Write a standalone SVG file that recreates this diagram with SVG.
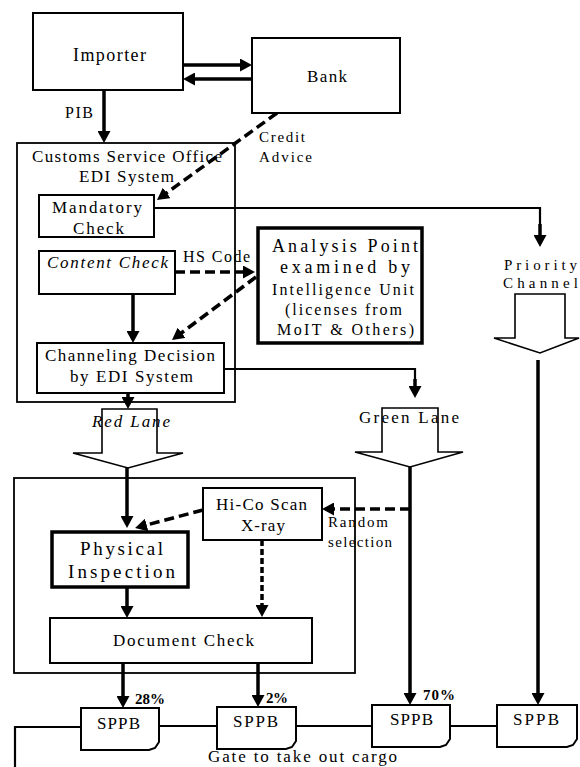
<svg xmlns="http://www.w3.org/2000/svg" width="580" height="767" viewBox="0 0 580 767">
<defs>
<marker id="ah" viewBox="0 0 12 13" refX="8" refY="6.5" markerWidth="12" markerHeight="13" markerUnits="userSpaceOnUse" orient="auto">
<path d="M0,0 L12,6.5 L0,13 z" fill="#000"/>
</marker>
<style>
text{font-family:"Liberation Serif","DejaVu Serif",serif;fill:#000;}
.box{fill:#fff;stroke:#000;stroke-width:2;}
.thick{fill:#fff;stroke:#000;stroke-width:3.5;}
.frame{fill:none;stroke:#000;stroke-width:1.8;}
.blk{fill:#fff;stroke:#000;stroke-width:1.6;stroke-linejoin:miter;}
.c{fill:none;stroke:#000;stroke-width:3.5;}
.cm{fill:none;stroke:#000;stroke-width:2.2;}
.d{fill:none;stroke:#000;stroke-width:3.5;stroke-dasharray:10,5;}
.ds{fill:none;stroke:#000;stroke-width:3.5;stroke-dasharray:6,3;}
.arr{marker-end:url(#ah);}
</style>
</defs>
<rect width="580" height="767" fill="#fff"/>

<g id="frames">
<rect id="customs-frame" class="frame" x="17" y="143" width="218" height="259"/>
<rect id="inspection-frame" class="frame" x="14" y="478" width="341" height="195"/>
</g>

<g id="connectors">
<path class="c arr" d="M183,65 H248"/>
<path class="c arr" d="M252,79 H187"/>
<path class="c arr" d="M104,90 V139"/>
<path class="d arr" d="M277,113 L160.2,197.6"/>
<path class="cm" d="M154,208 H540 V225"/>
<path class="c arr" d="M540,224 V243"/>
<path class="d arr" d="M175,272 H251"/>
<path class="d arr" d="M256,277 L175.2,337.6"/>
<path class="c arr" d="M133,294 V339"/>
<path class="cm" d="M224,369 H415 V380"/>
<path class="c arr" d="M415,379 V394"/>
<path class="c arr" d="M128,393 V405"/>
<path class="c arr" d="M127,468 V524"/>
<path class="d arr" d="M203,510 L138.9,527"/>
<path class="d arr" d="M410,509 H326"/>
<path class="ds arr" d="M262,540 V613"/>
<path class="c arr" d="M127,587 V614"/>
<path class="c arr" d="M123,663 V704"/>
<path class="c arr" d="M258,663 V703"/>
<path class="c arr" d="M410,467 V701"/>
<path class="c arr" d="M538,360 V701"/>
<path class="cm" d="M15,767 V727 H81"/>
<path class="cm" d="M159,726 H217"/>
<path class="cm" d="M296,726 H372"/>
<path class="cm" d="M450,726 H497"/>
</g>

<g id="importer">
<rect class="box" x="33" y="13" width="150" height="77"/>
<text x="73" y="61" font-size="18" textLength="73" lengthAdjust="spacing">Importer</text>
</g>
<g id="bank">
<rect class="box" x="252" y="38" width="148" height="75"/>
<text x="307" y="82" font-size="17" textLength="40" lengthAdjust="spacing">Bank</text>
</g>
<g id="labels-top">
<text x="65" y="118" font-size="16" textLength="28" lengthAdjust="spacing">PIB</text>
<text x="259" y="142" font-size="15" textLength="46" lengthAdjust="spacing">Credit</text>
<text x="259" y="162" font-size="15" textLength="53" lengthAdjust="spacing">Advice</text>
<text x="32" y="162" font-size="17" textLength="190" lengthAdjust="spacing">Customs Service Office</text>
<text x="79" y="182" font-size="17" textLength="95" lengthAdjust="spacing">EDI System</text>
</g>
<g id="mandatory-check">
<rect class="box" x="39" y="195" width="115" height="42"/>
<text x="52" y="213" font-size="17" textLength="90" lengthAdjust="spacing">Mandatory</text>
<text x="73" y="234" font-size="17" textLength="51" lengthAdjust="spacing">Check</text>
</g>
<g id="content-check">
<rect class="box" x="39" y="251" width="136" height="43"/>
<text x="47" y="268" font-size="17" font-style="italic" textLength="121" lengthAdjust="spacing">Content Check</text>
</g>
<text x="183" y="262" font-size="16" textLength="67" lengthAdjust="spacing">HS Code</text>
<g id="analysis-point">
<rect class="thick" x="258" y="228" width="164" height="115"/>
<text x="272" y="252" font-size="18" textLength="146" lengthAdjust="spacing">Analysis Point</text>
<text x="280" y="273" font-size="18" textLength="130" lengthAdjust="spacing">examined by</text>
<text x="272" y="295" font-size="16" textLength="142" lengthAdjust="spacing">Intelligence Unit</text>
<text x="285" y="315" font-size="16" textLength="117" lengthAdjust="spacing">(licenses from</text>
<text x="277" y="335" font-size="16" textLength="137" lengthAdjust="spacing">MoIT &amp; Others)</text>
</g>
<g id="channeling-decision">
<rect class="box" x="37" y="343" width="187" height="50"/>
<text x="45" y="361" font-size="17" textLength="170" lengthAdjust="spacing">Channeling Decision</text>
<text x="70" y="382" font-size="17" textLength="123" lengthAdjust="spacing">by EDI System</text>
</g>
<g id="priority-channel">
<text x="504" y="270" font-size="15" textLength="73" lengthAdjust="spacing">Priority</text>
<text x="503" y="288" font-size="15" textLength="75" lengthAdjust="spacing">Channel</text>
<polygon class="blk" points="515,294 565,294 565,338 579,338 540,353 494,338 515,338"/>
</g>
<g id="red-lane">
<polygon class="blk" points="102,409 157,409 157,453 183,453 128,468 73,453 102,453"/>
<text x="92" y="427" font-size="17" font-style="italic" textLength="78" lengthAdjust="spacing">Red Lane</text>
</g>
<g id="green-lane">
<polygon class="blk" points="382,408 438,408 438,452 463,452 410,467 355,452 382,452"/>
<text x="359" y="423" font-size="17" textLength="100" lengthAdjust="spacing">Green Lane</text>
</g>
<g id="hico-scan">
<rect class="box" x="203" y="488" width="119" height="52"/>
<text x="216" y="510" font-size="17" textLength="91" lengthAdjust="spacing">Hi-Co Scan</text>
<text x="241" y="531" font-size="17" textLength="44" lengthAdjust="spacing">X-ray</text>
</g>
<g id="random-label">
<text x="328" y="527" font-size="15" textLength="60" lengthAdjust="spacing">Random</text>
<text x="328" y="547" font-size="15" textLength="64" lengthAdjust="spacing">selection</text>
</g>
<g id="physical-inspection">
<rect class="thick" x="52" y="532" width="136" height="55"/>
<text x="80" y="555" font-size="19" textLength="83" lengthAdjust="spacing">Physical</text>
<text x="68" y="578" font-size="19" textLength="107" lengthAdjust="spacing">Inspection</text>
</g>
<g id="document-check">
<rect class="box" x="50" y="618" width="262" height="45"/>
<text x="113" y="646" font-size="17" textLength="141" lengthAdjust="spacing">Document Check</text>
</g>
<g id="percent-labels">
<text x="135" y="704" font-size="15" font-weight="bold" textLength="30" lengthAdjust="spacing">28%</text>
<text x="266" y="703" font-size="15" font-weight="bold" textLength="22" lengthAdjust="spacing">2%</text>
<text x="423" y="700" font-size="15" font-weight="bold" textLength="32" lengthAdjust="spacing">70%</text>
</g>
<g id="sppb-1">
<path class="box" d="M81,708 H159 V742 L155,748 L149,750 H81 Z"/>
<text x="97" y="729" font-size="17" textLength="43" lengthAdjust="spacing">SPPB</text>
</g>
<g id="sppb-2">
<path class="box" d="M217,707 H296 V741 L292,747 L286,749 H217 Z"/>
<text x="233" y="727" font-size="17" textLength="45" lengthAdjust="spacing">SPPB</text>
</g>
<g id="sppb-3">
<path class="box" d="M372,705 H450 V739 L446,745 L440,747 H372 Z"/>
<text x="390" y="725" font-size="17" textLength="43" lengthAdjust="spacing">SPPB</text>
</g>
<g id="sppb-4">
<path class="box" d="M497,705 H577 V739 L573,745 L567,747 H497 Z"/>
<text x="513" y="725" font-size="17" textLength="46" lengthAdjust="spacing">SPPB</text>
</g>
<text x="208" y="762" font-size="17" textLength="189" lengthAdjust="spacing">Gate to take out cargo</text>
</svg>
